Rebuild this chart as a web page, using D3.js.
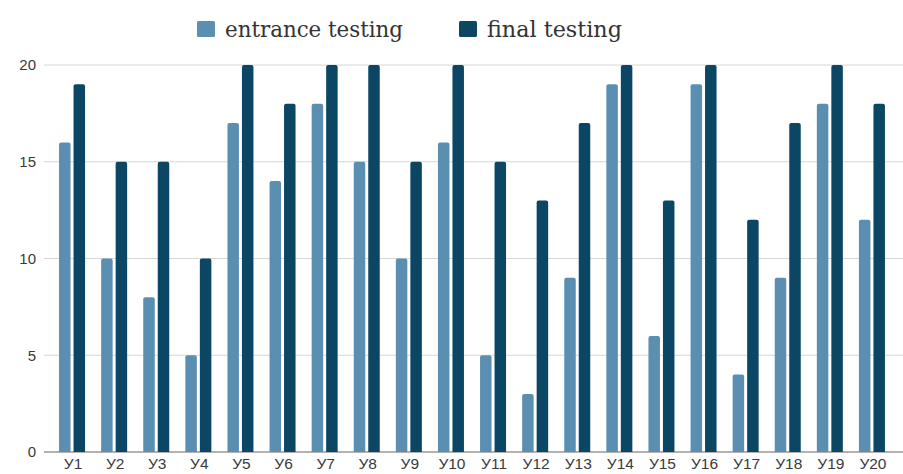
<!DOCTYPE html>
<html>
<head>
<meta charset="utf-8">
<script src="https://cdn.jsdelivr.net/npm/d3@7"></script>
<style>
  body { margin: 0; background: #fff; }
  svg { display: block; }
</style>
</head>
<body>
<div id="chart"></div>
<script>
// data
var categories = ['У1', 'У2', 'У3', 'У4', 'У5', 'У6', 'У7', 'У8', 'У9', 'У10',
                  'У11', 'У12', 'У13', 'У14', 'У15', 'У16', 'У17', 'У18', 'У19', 'У20'];
var entrance = [16, 10, 8, 5, 17, 14, 18, 15, 10, 16, 5, 3, 9, 19, 6, 19, 4, 9, 18, 12];
var finalTest = [19, 15, 15, 10, 20, 18, 20, 20, 15, 20, 15, 13, 17, 20, 13, 20, 12, 17, 20, 18];
var seriesNames = ['entrance testing', 'final testing'];
var yTicks = [0, 5, 10, 15, 20];

var width = 903;
var height = 474;
var colour = ['#5b8fb2', '#0c4665'];

var svg = d3.select('#chart')
    .append('svg')
    .attr('width', width)
    .attr('height', height);

var x = d3.scaleBand()
    .domain(categories)
    .range([51, 893])
    .paddingInner(0)
    .paddingOuter(0);

var y = d3.scaleLinear()
    .domain([0, 20])
    .range([452, 65]);

// grid lines
svg.append('g')
    .selectAll('line')
    .data(yTicks)
    .enter().append('line')
    .attr('x1', 44)
    .attr('x2', width)
    .attr('y1', function(d) { return y(d); })
    .attr('y2', function(d) { return y(d); })
    .style('stroke', function(d) { return d === 0 ? '#999' : '#d6d6d6'; })
    .style('stroke-width', function(d) { return d === 0 ? 1.5 : 1; });

// y labels
svg.append('g')
    .selectAll('text')
    .data(yTicks)
    .enter().append('text')
    .attr('x', 36)
    .attr('y', function(d) { return y(d); })
    .attr('dy', '.35em')
    .attr('text-anchor', 'end')
    .style('font-family', 'Liberation Sans, Arial, sans-serif')
    .style('font-size', '15px')
    .style('fill', '#3a3a3a')
    .text(function(d) { return d; });

// x labels
svg.append('g')
    .selectAll('text')
    .data(categories)
    .enter().append('text')
    .attr('x', function(d) { return x(d) + x.bandwidth() / 2 + 1; })
    .attr('y', 469)
    .attr('text-anchor', 'middle')
    .style('font-family', 'Liberation Sans, Arial, sans-serif')
    .style('font-size', '15.5px')
    .style('fill', '#3a3a3a')
    .text(function(d) { return d; });

var barW = 11.5;
var gap = 3;

function barPath(x0, top, w, bottom) {
    var r = 2;
    return 'M' + x0 + ',' + bottom +
        'V' + (top + r) +
        'Q' + x0 + ',' + top + ' ' + (x0 + r) + ',' + top +
        'H' + (x0 + w - r) +
        'Q' + (x0 + w) + ',' + top + ' ' + (x0 + w) + ',' + (top + r) +
        'V' + bottom + 'Z';
}

[entrance, finalTest].forEach(function(series, s) {
    svg.append('g')
        .selectAll('path')
        .data(series)
        .enter().append('path')
        .attr('d', function(d, i) {
            var cx = x(categories[i]) + x.bandwidth() / 2;
            var x0 = s === 0 ? cx - gap / 2 - barW : cx + gap / 2;
            return barPath(x0, y(d), barW, y(0));
        })
        .style('fill', colour[s]);
});

// legend
var legendX = [197, 459];
var legendLen = [178, 135];
var legend = svg.append('g')
    .selectAll('g')
    .data(seriesNames)
    .enter().append('g')
    .attr('transform', function(d, i) { return 'translate(' + legendX[i] + ',0)'; });

legend.append('rect')
    .attr('x', 0)
    .attr('y', 21)
    .attr('width', 18)
    .attr('height', 16)
    .attr('rx', 1.5)
    .style('fill', function(d, i) { return colour[i]; });

legend.append('text')
    .attr('x', 28)
    .attr('y', 37)
    .attr('textLength', function(d, i) { return legendLen[i]; })
    .attr('lengthAdjust', 'spacingAndGlyphs')
    .style('font-family', 'DejaVu Serif Condensed, DejaVu Serif, serif')
    .style('font-size', '23px')
    .style('fill', '#333')
    .text(function(d) { return d; });
</script>
</body>
</html>
